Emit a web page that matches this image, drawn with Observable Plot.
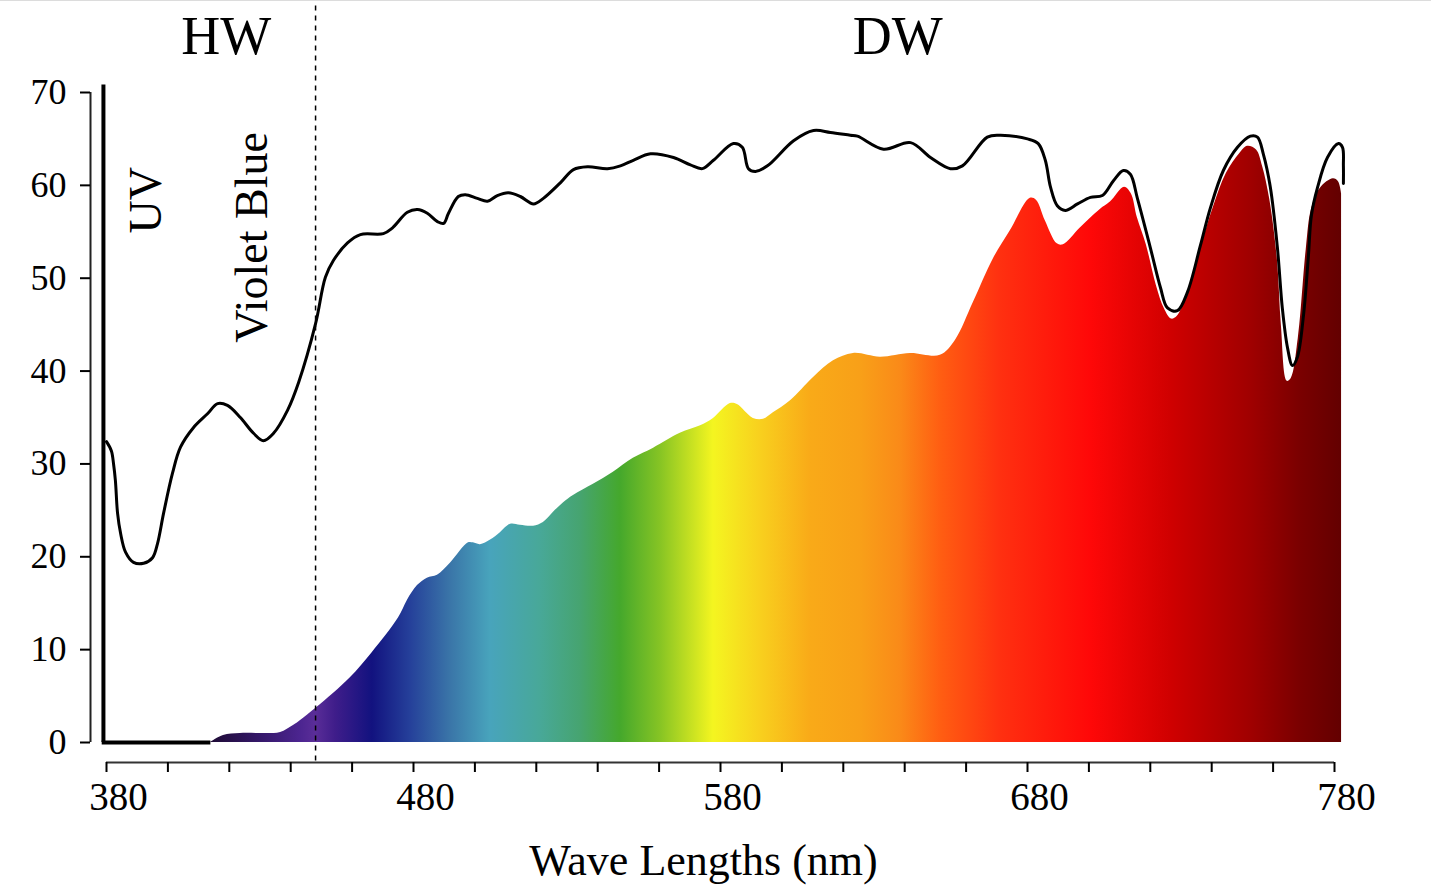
<!DOCTYPE html>
<html>
<head>
<meta charset="utf-8">
<script src="https://cdn.jsdelivr.net/npm/d3@7"></script>
<script src="https://cdn.jsdelivr.net/npm/@observablehq/plot@0.6"></script>
<style>
  html, body { margin: 0; padding: 0; background: #fff; }
  #chart { position: relative; width: 1431px; height: 888px; overflow: hidden; }
  #chart .edge { position: absolute; left: 0; top: 0; width: 1431px; height: 1px; background: #dcdcdc; }
</style>
</head>
<body>
<div id="chart"><div class="edge"></div></div>
<script>
// Spectral power distribution of the lamp: [wavelength nm, relative power]
const spdReadings = [
  [380.0, 32.4], [381.6, 31.4], [382.3, 30.0], [382.9, 28.2], [383.6, 24.7], [384.6, 22.5],
  [386.2, 20.5], [388.8, 19.4], [392.1, 19.3], [395.0, 19.9], [396.6, 21.4], [398.6, 24.7],
  [401.5, 29.0], [404.1, 31.8], [408.3, 33.9], [412.9, 35.4], [416.2, 36.5], [419.4, 36.3],
  [423.6, 35.0], [427.9, 33.3], [431.1, 32.5], [434.4, 33.3], [439.0, 35.8], [442.6, 38.8],
  [448.1, 45.1], [451.3, 50.1], [453.9, 51.9], [458.5, 53.8], [462.7, 54.7], [470.2, 54.8],
  [473.1, 55.4], [478.0, 57.1], [481.3, 57.4], [484.5, 57.0], [487.8, 56.1], [489.8, 55.9],
  [491.4, 57.0], [494.6, 58.8], [496.9, 59.0], [500.8, 58.6], [504.1, 58.3], [507.3, 58.9],
  [510.9, 59.2], [514.8, 58.8], [519.1, 58.0], [522.3, 58.6], [527.9, 60.3], [532.1, 61.7],
  [536.7, 62.0], [543.2, 61.8], [547.4, 62.1], [551.6, 62.7], [557.2, 63.4], [564.7, 63.0],
  [570.2, 62.2], [574.1, 61.8], [577.7, 62.7], [584.2, 64.5], [587.1, 64.1], [589.1, 61.8],
  [591.4, 61.5], [595.3, 62.1], [603.8, 64.8], [610.3, 65.9], [615.8, 65.7], [622.3, 65.4],
  [624.6, 65.3], [633.1, 63.9], [641.9, 64.6], [648.4, 63.0], [654.9, 61.8], [658.8, 62.1],
  [666.9, 65.2], [671.2, 65.4], [680.0, 65.0], [683.5, 64.5], [685.8, 62.7], [687.5, 59.8],
  [689.7, 57.8], [692.3, 57.3], [696.3, 58.0], [700.5, 58.7], [704.4, 58.9], [708.0, 60.5],
  [711.2, 61.6], [713.5, 61.2], [715.8, 58.6], [720.0, 53.3], [723.3, 49.0], [725.6, 46.8],
  [728.8, 46.5], [732.1, 48.5], [736.3, 53.5], [739.6, 57.6], [743.8, 61.6], [748.4, 64.1],
  [752.6, 65.3], [754.9, 65.2], [756.8, 63.4], [759.1, 59.8], [761.4, 53.3], [763.0, 46.8],
  [764.7, 42.5], [766.3, 40.6], [767.9, 41.5], [769.9, 46.0], [771.5, 52.4], [772.5, 56.8],
  [774.5, 59.8], [777.7, 63.0], [781.3, 64.5], [782.6, 64.1], [782.9, 62.1], [782.9, 60.2]
];

// Visible part of the emission, shown as the coloured spectrum: [wavelength nm, relative power]
const visibleReadings = [
  [413.9, 0.0], [418.1, 0.75], [423.6, 0.97], [432.4, 0.97], [436.7, 1.08], [440.9, 1.83],
  [443.2, 2.37], [448.1, 3.66], [453.9, 5.28], [459.5, 7.0], [466.6, 9.7], [475.1, 13.4],
  [478.0, 15.3], [481.3, 16.9], [484.5, 17.7], [487.8, 18.0], [492.0, 19.3], [497.9, 21.5],
  [499.5, 21.5], [501.8, 21.3], [505.1, 21.8], [508.3, 22.6], [511.6, 23.5], [514.8, 23.4],
  [519.1, 23.3], [522.3, 23.7], [525.6, 24.8], [528.8, 25.8], [532.1, 26.6], [538.6, 27.8],
  [545.1, 29.1], [551.6, 30.6], [558.2, 31.7], [566.9, 33.3], [573.5, 34.1], [577.7, 34.9],
  [583.2, 36.5], [585.5, 36.4], [590.7, 34.9], [594.0, 34.8], [597.2, 35.5], [602.8, 36.8],
  [610.3, 39.3], [616.8, 41.1], [623.3, 41.9], [632.1, 41.5], [641.9, 41.9], [651.6, 41.7],
  [656.5, 43.3], [662.4, 47.4], [668.9, 52.1], [674.4, 55.1], [680.9, 58.6], [682.9, 58.4],
  [685.8, 56.2], [689.7, 53.7], [691.7, 53.6], [697.2, 55.4], [703.7, 57.4], [707.0, 58.2],
  [711.6, 59.8], [713.8, 59.1], [715.8, 56.5], [718.7, 53.6], [722.0, 49.2], [724.6, 46.7],
  [726.9, 45.6], [728.8, 45.9], [731.8, 48.1], [736.0, 52.8], [740.6, 57.7], [744.8, 61.3],
  [749.1, 63.4], [751.7, 64.2], [754.6, 63.8], [756.6, 62.0], [758.9, 58.5], [761.4, 52.0],
  [762.7, 44.9], [764.6, 38.9], [765.9, 39.2], [768.2, 43.5], [770.8, 53.1], [772.5, 57.4],
  [775.4, 59.7], [779.6, 60.7], [781.3, 60.4], [782.3, 59.1]
];

// Colour of light along the spectrum: [wavelength nm, colour]
const spectrumStops = [
  [413.9, "#1e0b35"], [430.2, "#35186a"], [443.2, "#4c2590"], [448.1, "#5a2d98"],
  [454.6, "#3f1d8a"], [466.6, "#12127f"], [479.0, "#25409a"], [492.0, "#3a75a8"],
  [505.1, "#48a4bc"], [521.4, "#48a898"], [534.4, "#46a470"], [547.4, "#45a82c"],
  [560.4, "#86c424"], [577.7, "#f4f520"], [593.0, "#f8d01e"], [609.3, "#f9aa18"],
  [625.6, "#f8a018"], [638.6, "#fa8a18"], [651.6, "#ff5e12"], [671.2, "#ff3010"],
  [700.5, "#ff0808"], [726.5, "#d00000"], [752.6, "#a00000"], [768.9, "#7a0000"],
  [781.9, "#640000"]
];

const yTicks = [0, 10, 20, 30, 40, 50, 60, 70];
const xMinorTicks = d3.range(380, 781, 20);
const xTickLabels = [380, 480, 580, 680, 780];
const bandBoundary = 448.1; // HW | DW split

// Horizontal gradient following the wavelength scale
function spectrumGradient(index, {x}) {
  const lo = spectrumStops[0][0];
  const hi = spectrumStops[spectrumStops.length - 1][0];
  const defs = d3.create("svg:defs");
  const grad = defs.append("linearGradient")
    .attr("id", "spectrum")
    .attr("gradientUnits", "userSpaceOnUse")
    .attr("x1", x(lo)).attr("x2", x(hi))
    .attr("y1", 0).attr("y2", 0);
  grad.selectAll("stop").data(spectrumStops).join("stop")
    .attr("offset", d => (d[0] - lo) / (hi - lo))
    .attr("stop-color", d => d[1]);
  return defs.node();
}

const serif = "'Liberation Serif', 'Times New Roman', serif";

const chart = Plot.plot({
  width: 1431,
  height: 888,
  marginLeft: 90,
  marginRight: 115,
  marginTop: 0,
  marginBottom: 126,
  style: {fontFamily: serif, fontSize: "35px", color: "#000", background: "transparent", overflow: "visible"},
  x: {domain: [380, 780], range: [106, 1334]},
  y: {domain: [0, 70], range: [742, 92]},
  marks: [
    spectrumGradient,
    Plot.areaY(visibleReadings, {x: d => d[0], y: d => d[1], fill: "url(#spectrum)", curve: "catmull-rom"}),
    // UV edge of the measurement
    Plot.ruleX([379], {y1: 0, y2: 70.8, stroke: "#000", strokeWidth: 4}),
    Plot.ruleY([0], {x1: 378.6, x2: 414, stroke: "#000", strokeWidth: 4}),
    Plot.line(spdReadings, {x: d => d[0], y: d => d[1], stroke: "#000", strokeWidth: 3, curve: "catmull-rom"}),
    Plot.ruleX([bandBoundary], {y1: -2, y2: 80, stroke: "#000", strokeWidth: 1.5, strokeDasharray: "5,5"}),
    // axes
    Plot.ruleX([380], {y1: 0, y2: 70, dx: -16, stroke: "#222", strokeWidth: 2}),
    Plot.axisY({ticks: yTicks, tickSize: 10, tickPadding: 14, fontSize: 36, label: null, strokeWidth: 2}),
    Plot.ruleY([0], {x1: 380, x2: 780, dy: 20, stroke: "#333", strokeWidth: 2}),
    Plot.axisX({ticks: xMinorTicks, tickSize: 10, tickFormat: () => "", label: null, strokeWidth: 2}),
    Plot.text(xTickLabels, {x: d => d, frameAnchor: "bottom", dy: 47, dx: 12, fontSize: 39, fill: "#000"}),
    Plot.text(["Wave Lengths (nm)"], {frameAnchor: "bottom", dy: 112, fontSize: 44, fill: "#000"}),
    // band labels
    Plot.text(["HW"], {x: 419, y: 76, fontSize: 54, fill: "#000"}),
    Plot.text(["DW"], {x: 637.7, y: 76, fontSize: 54, fill: "#000"}),
    Plot.text(["UV"], {x: 393, y: 58.4, rotate: -90, fontSize: 46, fill: "#000"}),
    Plot.text(["Violet Blue"], {x: 427.6, y: 54.4, rotate: -90, fontSize: 46, fill: "#000"})
  ]
});

document.getElementById("chart").append(chart);
</script>
</body>
</html>
